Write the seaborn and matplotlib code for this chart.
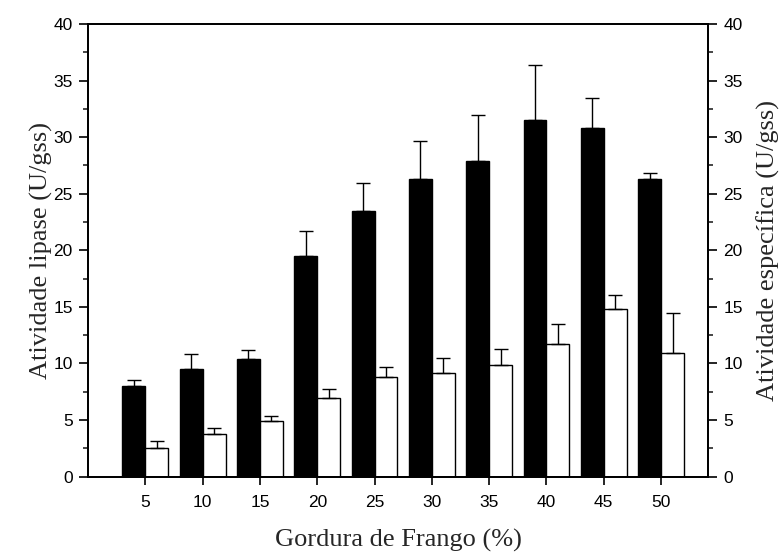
import numpy as np
import pandas as pd
import matplotlib
matplotlib.use("Agg")
import matplotlib.pyplot as plt
import seaborn as sns
from matplotlib.ticker import MultipleLocator

gordura = [5, 10, 15, 20, 25, 30, 35, 40, 45, 50]
lipase = [8.0, 9.5, 10.4, 19.5, 23.5, 26.3, 27.9, 31.5, 30.8, 26.3]
lipase_err = [0.57, 1.32, 0.8, 2.25, 2.45, 3.4, 4.1, 4.9, 2.7, 0.53]
especifica = [2.56, 3.77, 4.92, 6.92, 8.83, 9.19, 9.87, 11.7, 14.81, 10.9]
especifica_err = [0.62, 0.56, 0.41, 0.8, 0.83, 1.32, 1.44, 1.79, 1.27, 3.53]

sns.set_style("ticks")
plt.rcParams['font.family'] = ['Liberation Sans', 'DejaVu Sans']

df = pd.DataFrame({
    "x": gordura * 2,
    "y": lipase + especifica,
    "serie": ["lipase"] * len(gordura) + ["especifica"] * len(gordura),
})

fig = plt.figure(figsize=(7.79, 5.52), dpi=100)
ax = fig.add_axes([0.113, 0.1365, 0.796, 0.82])

sns.barplot(data=df, x="x", y="y", hue="serie", native_scale=True,
            palette={"lipase": "black", "especifica": "white"},
            hue_order=["lipase", "especifica"], width=0.8, dodge=True,
            errorbar=None, edgecolor="black", linewidth=1.0,
            saturation=1, legend=False, ax=ax)

xb = np.array(gordura) - 1
xw = np.array(gordura) + 1
ax.errorbar(xb, lipase, yerr=[np.zeros(len(lipase)), lipase_err], fmt="none",
            ecolor="black", elinewidth=1.0, capsize=5, capthick=1.0)
ax.errorbar(xw, especifica, yerr=[np.zeros(len(especifica)), especifica_err], fmt="none",
            ecolor="black", elinewidth=1.0, capsize=5, capthick=1.0)

ax.set_xlim(0, 54.1)
ax.set_ylim(0, 40)
ax.set_xticks(gordura)
ax.set_xticklabels([str(g) for g in gordura])
ax.yaxis.set_major_locator(MultipleLocator(5))
ax.yaxis.set_minor_locator(MultipleLocator(2.5))
ax.tick_params(axis="both", which="major", direction="out", length=6.5, width=1.2,
               labelsize=12.5, colors="black", pad=4.5)
ax.tick_params(axis="x", which="major", length=6, pad=7)
ax.tick_params(axis="y", which="minor", direction="out", length=3.5, width=1.2)

for s in ax.spines.values():
    s.set_visible(True)
    s.set_linewidth(1.3)
    s.set_color("black")

ax.set_xlabel("Gordura de Frango (%)", family=["Liberation Serif"], fontsize=19, labelpad=14)
ax.set_ylabel("Atividade lipase (U/gss)", family=["Liberation Serif"], fontsize=19, labelpad=0)

ax2 = ax.twinx()
ax2.set_ylim(0, 40)
ax2.yaxis.set_major_locator(MultipleLocator(5))
ax2.yaxis.set_minor_locator(MultipleLocator(2.5))
ax2.tick_params(axis="y", which="major", direction="out", length=6.5, width=1.2,
                labelsize=12.5, colors="black", pad=4.5)
ax2.tick_params(axis="y", which="minor", direction="out", length=3.5, width=1.2)
for s in ax2.spines.values():
    s.set_linewidth(1.3)
    s.set_color("black")
ax2.set_ylabel("Atividade específica (U/gss)", family=["Liberation Serif"], fontsize=19, labelpad=10)

fig.savefig("out.png", dpi=100)
